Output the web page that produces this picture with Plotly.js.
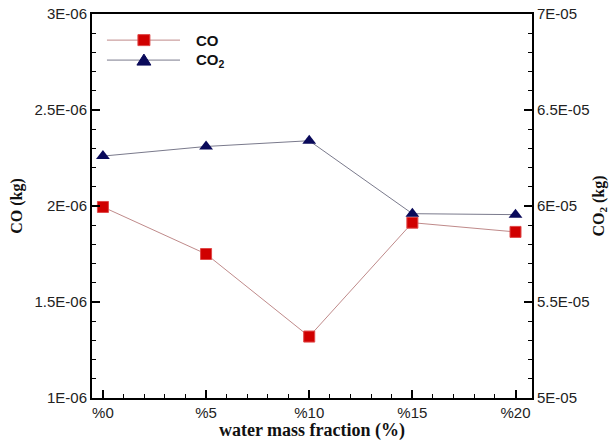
<!DOCTYPE html>
<html>
<head>
<meta charset="utf-8">
<script src="https://cdn.plot.ly/plotly-3.0.1.min.js"></script>
<style>html,body{margin:0;padding:0;background:#fff;}#chart{width:609px;height:441px;}</style>
</head>
<body>
<div id="chart"></div>
<script>
const waterFraction = [0, 5, 10, 15, 20];
const xTickLabels = ["%0", "%5", "%10", "%15", "%20"];
const coKg = [1.995e-6, 1.75e-6, 1.32e-6, 1.913e-6, 1.865e-6];
const co2Kg = [6.26e-5, 6.31e-5, 6.34e-5, 5.96e-5, 5.955e-5];
const leftTickVals = [1e-6, 1.5e-6, 2e-6, 2.5e-6, 3e-6];
const leftTickText = ["1E-06", "1.5E-06", "2E-06", "2.5E-06", "3E-06"];
const rightTickVals = [5e-5, 5.5e-5, 6e-5, 6.5e-5, 7e-5];
const rightTickText = ["5E-05", "5.5E-05", "6E-05", "6.5E-05", "7E-05"];
const seriesNames = ["CO", "CO<sub>2</sub>"];

const coLine = "#bf8a8a", coFill = "#d00000", coEdge = "#e04848";
const co2Line = "#7a7a8c", co2Fill = "#0a0a5a";

const tickFont = {family: "Liberation Sans, Arial, sans-serif", size: 15, color: "#222"};
const titleFont = {family: "Liberation Serif, Times New Roman, serif", size: 18, color: "#111", weight: "bold"};
const vTitleFont = {family: "Liberation Serif, Times New Roman, serif", size: 16, color: "#111", weight: "bold"};

const traces = [
  {x: waterFraction, y: coKg, name: seriesNames[0], type: "scatter", mode: "lines+markers", showlegend: false,
   line: {color: coLine, width: 1}, marker: {symbol: "square", size: 11, color: coFill, line: {color: coEdge, width: 1}}, yaxis: "y"},
  {x: waterFraction, y: co2Kg, name: seriesNames[1], type: "scatter", mode: "lines+markers", showlegend: false,
   line: {color: co2Line, width: 1}, marker: {symbol: "triangle-up", size: 12, color: co2Fill}, yaxis: "y2"}
];

// custom legend (paper coordinates)
const legRowY = [0.932, 0.880];
const legLineX = [0.034, 0.20];
const legMarkX = 0.118;
const legTextX = 0.232;
const shapes = [
  {type: "line", xref: "paper", yref: "paper", x0: legLineX[0], x1: legLineX[1], y0: legRowY[0], y1: legRowY[0], line: {color: coLine, width: 1}},
  {type: "line", xref: "paper", yref: "paper", x0: legLineX[0], x1: legLineX[1], y0: legRowY[1], y1: legRowY[1], line: {color: co2Line, width: 1}},
  {type: "rect", xref: "paper", yref: "paper", xsizemode: "pixel", ysizemode: "pixel", xanchor: legMarkX, yanchor: legRowY[0],
   x0: -6, x1: 6, y0: -5.5, y1: 5.5, fillcolor: coFill, line: {color: coEdge, width: 1}},
  {type: "path", xref: "paper", yref: "paper", xsizemode: "pixel", ysizemode: "pixel", xanchor: legMarkX, yanchor: legRowY[1],
   path: "M -7 -5 L 7 -5 L 0 6 Z", fillcolor: co2Fill, line: {color: co2Fill, width: 1}}
];
const annotations = [
  {xref: "paper", yref: "paper", x: legTextX, y: legRowY[0], xanchor: "left", yanchor: "middle", showarrow: false, text: seriesNames[0],
   font: {family: "Liberation Sans, Arial, sans-serif", size: 15, color: "#111", weight: "bold"}},
  {xref: "paper", yref: "paper", x: legTextX, y: legRowY[1], xanchor: "left", yanchor: "middle", showarrow: false, text: seriesNames[1],
   font: {family: "Liberation Sans, Arial, sans-serif", size: 15, color: "#111", weight: "bold"}}
];

const layout = {
  width: 609, height: 441,
  margin: {l: 92, r: 77, t: 14, b: 43},
  paper_bgcolor: "#fff", plot_bgcolor: "#fff",
  showlegend: false,
  shapes: shapes, annotations: annotations,
  xaxis: {range: [-0.53, 20.8], tickvals: waterFraction, ticktext: xTickLabels, ticks: "inside", ticklen: 8, tickwidth: 2,
          tickcolor: "#000", showline: true, linecolor: "#000", linewidth: 2, mirror: true, showgrid: false, zeroline: false,
          tickfont: tickFont, minor: {dtick: 1, ticks: "inside", ticklen: 4, tickwidth: 1, tickcolor: "#000", showgrid: false},
          title: {text: "water mass fraction (%)", font: titleFont, standoff: 2}},
  yaxis: {range: [1e-6, 3e-6], tickvals: leftTickVals, ticktext: leftTickText, ticks: "inside", ticklen: 8, tickwidth: 2,
          tickcolor: "#000", showline: true, linecolor: "#000", linewidth: 2, showgrid: false, zeroline: false,
          tickfont: tickFont, minor: {dtick: 1e-7, tick0: 1e-6, ticks: "inside", ticklen: 4, tickwidth: 1, tickcolor: "#000", showgrid: false},
          title: {text: "CO (kg)", font: vTitleFont, standoff: 8}},
  yaxis2: {range: [5e-5, 7e-5], overlaying: "y", side: "right", tickvals: rightTickVals, ticktext: rightTickText, ticks: "inside", ticklen: 8, tickwidth: 2,
          tickcolor: "#000", showline: true, linecolor: "#000", linewidth: 2, showgrid: false, zeroline: false,
          tickfont: tickFont, minor: {dtick: 1e-6, tick0: 5e-5, ticks: "inside", ticklen: 4, tickwidth: 1, tickcolor: "#000", showgrid: false},
          title: {text: "CO<sub>2</sub> (kg)", font: vTitleFont, standoff: 6}}
};

Plotly.newPlot("chart", traces, layout, {displayModeBar: false, staticPlot: true});
</script>
</body>
</html>
